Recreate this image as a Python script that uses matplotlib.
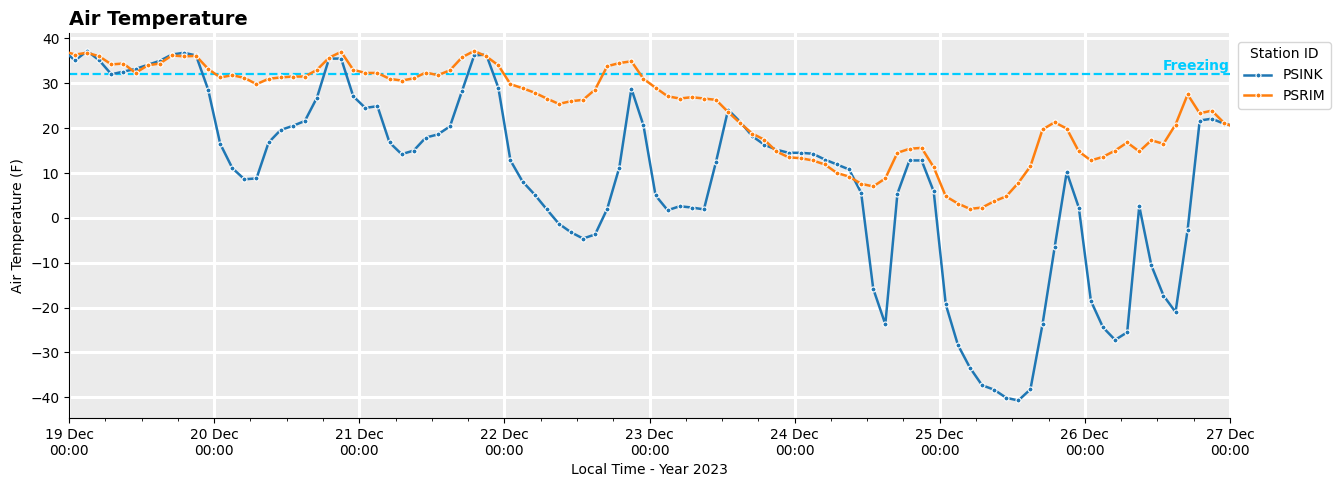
"""Air temperature at two stations, 19-27 Dec 2023, with freezing reference."""
import matplotlib
matplotlib.use("Agg")
import matplotlib.pyplot as plt
import matplotlib.dates as mdates
import pandas as pd

# 2-hourly readings, 18 Dec 23:00 .. 27 Dec 01:00 (local time)
times = pd.date_range("2023-12-18 23:00", periods=98, freq="2h")

psink = [
    37.3, 35.1, 37.2, 35.1, 32.0, 32.6, 33.2, 34.1, 35.0, 36.4, 36.8, 36.2,
    28.6, 16.5, 11.1, 8.6, 8.8, 16.8, 19.6, 20.5, 21.6, 26.8, 35.5, 35.5,
    27.1, 24.5, 24.9, 16.8, 14.2, 15.0, 17.9, 18.6, 20.4, 28.3, 36.2, 36.4,
    29.0, 12.8, 8.1, 5.2, 1.9, -1.3, -3.2, -4.6, -3.7, 2.0, 11.2, 28.8,
    20.6, 5.0, 1.7, 2.6, 2.3, 1.9, 12.5, 24.1, 21.4, 18.2, 16.3, 15.2,
    14.5, 14.5, 14.3, 13.0, 11.9, 10.8, 5.6, -15.8, -23.7, 5.4, 12.8, 12.8,
    5.9, -19.3, -28.3, -33.4, -37.3, -38.3, -40.1, -40.7, -38.2, -23.7, -6.6, 10.2,
    2.3, -18.5, -24.4, -27.2, -25.5, 2.6, -10.6, -17.3, -21.0, -2.6, 21.7, 22.1,
    21.0, 20.4,
]
psrim = [
    37.2, 36.4, 36.8, 36.0, 34.2, 34.4, 32.3, 34.0, 34.4, 36.2, 36.0, 36.1,
    33.2, 31.3, 31.8, 31.2, 29.8, 31.0, 31.3, 31.5, 31.5, 33.0, 35.7, 37.0,
    33.0, 32.3, 32.3, 31.0, 30.6, 31.1, 32.4, 31.8, 32.9, 35.8, 37.2, 36.0,
    34.0, 29.8, 28.9, 27.9, 26.6, 25.4, 26.0, 26.3, 28.6, 33.8, 34.5, 34.9,
    31.0, 29.0, 27.1, 26.6, 26.9, 26.6, 26.3, 23.6, 21.1, 18.8, 17.4, 14.8,
    13.5, 13.3, 12.8, 11.9, 10.0, 9.2, 7.6, 7.0, 8.8, 14.5, 15.4, 15.6,
    11.3, 4.8, 3.2, 2.0, 2.3, 3.7, 4.8, 7.8, 11.5, 19.7, 21.3, 19.9,
    14.8, 12.8, 13.6, 15.0, 16.8, 14.8, 17.3, 16.5, 20.8, 27.5, 23.3, 23.9,
    21.2, 20.0,
]
stations = ["PSINK", "PSRIM"]
freezing = 32.0

fig = plt.figure(figsize=(13.41, 4.87), dpi=100)
ax = fig.add_axes([0.0515, 0.1417, 0.8657, 0.7905])
ax.set_facecolor("#EBEBEB")

for name, vals, col in zip(stations, [psink, psrim], ["#1f77b4", "#ff7f0e"]):
    ax.plot(times, vals, "-o", color=col, lw=1.8, ms=3.6, mec="white",
            mew=0.8, label=name, zorder=3)

ax.axhline(freezing, ls="--", color="#00CCFF", lw=1.6, zorder=2)
ax.text(1.0, freezing + 0.3, "Freezing", transform=ax.get_yaxis_transform(),
        ha="right", va="bottom", color="#00CCFF", fontweight="bold",
        fontsize=10)

ax.set_xlim(pd.Timestamp("2023-12-19"), pd.Timestamp("2023-12-27"))
ax.xaxis.set_major_locator(mdates.DayLocator())
ax.xaxis.set_minor_locator(mdates.HourLocator(byhour=[6, 12, 18]))
ax.xaxis.set_major_formatter(mdates.DateFormatter("%d %b\n%H:%M"))

ax.grid(True, which="major", color="white", lw=2.2)
ax.set_axisbelow(True)
for side in ("top", "right"):
    ax.spines[side].set_visible(False)

ax.set_xlabel("Local Time - Year 2023")
ax.set_ylabel("Air Temperature (F)")
ax.set_title("Air Temperature", loc="left", fontweight="bold", fontsize=14)
ax.legend(title="Station ID", loc="upper left", bbox_to_anchor=(1.001, 0.995))

fig.savefig("out.png", dpi=100)
